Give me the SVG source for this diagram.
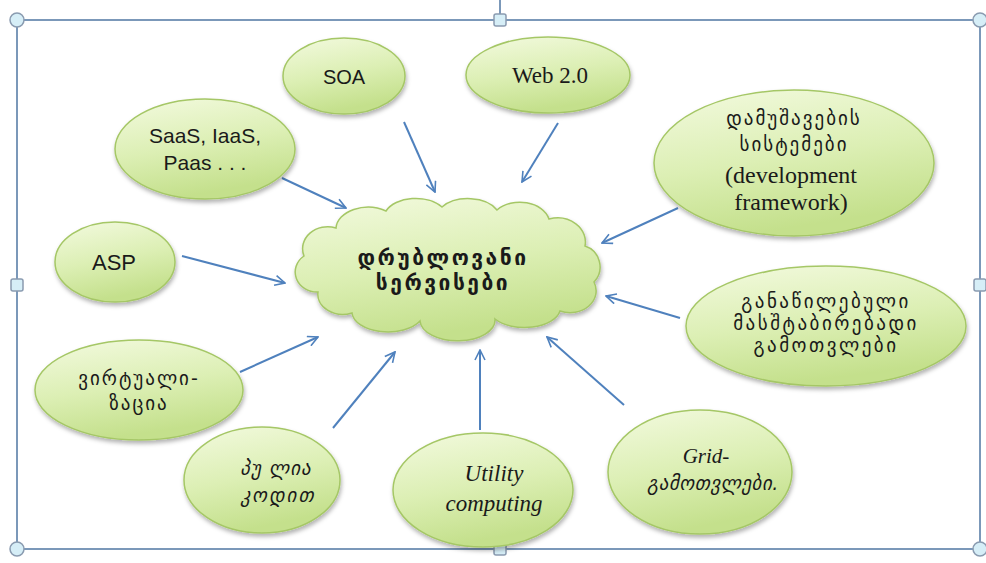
<svg xmlns="http://www.w3.org/2000/svg" width="986" height="563" viewBox="0 0 986 563">
  <defs>
    <linearGradient id="leaf" x1="0" y1="0" x2="0.3" y2="1">
      <stop offset="0" stop-color="#f3fadf"/>
      <stop offset="0.55" stop-color="#dcefb4"/>
      <stop offset="1" stop-color="#c4e08c"/>
    </linearGradient>
    <filter id="shade" x="-10%" y="-10%" width="125%" height="130%">
      <feDropShadow dx="1" dy="3" stdDeviation="2" flood-color="#000" flood-opacity="0.3"/>
    </filter>
    <marker id="head" viewBox="0 0 12 12" refX="11" refY="6" markerWidth="12" markerHeight="12" markerUnits="userSpaceOnUse" orient="auto">
      <path d="M1,1 L11,6 L1,11" fill="none" stroke="#4f81bd" stroke-width="1.6"/>
    </marker>
  </defs>
  <style>
    .node { fill: url(#leaf); stroke: #a5c766; stroke-width: 1.5; filter: url(#shade); }
    .link { stroke: #4f81bd; stroke-width: 2; fill: none; marker-end: url(#head); }
    .sans { font-family: "Liberation Sans", Arial, sans-serif; font-size: 20px; fill: #1a1a1a; text-anchor: middle; }
    .serif { font-family: "Liberation Serif", "Times New Roman", serif; font-size: 20px; fill: #1a1a1a; text-anchor: middle; }
    .geo { font-family: "DejaVu Sans", "Noto Sans", sans-serif; font-size: 19px; letter-spacing: 2px; fill: #1a1a1a; text-anchor: middle; }
    .frame { fill: none; stroke: #7b98b9; stroke-width: 2; }
    .knob { fill: #d6eef7; stroke: #8a9bb0; stroke-width: 1.5; }
  </style>

  <!-- selection frame -->
  <g id="frame">
    <line x1="500" y1="0" x2="500" y2="20" stroke="#7b98b9" stroke-width="2"/>
    <rect class="frame" x="17" y="20" width="963" height="529"/>
    <circle class="knob" cx="17" cy="20" r="7"/>
    <circle class="knob" cx="980" cy="20" r="7"/>
    <circle class="knob" cx="17" cy="549" r="7"/>
    <circle class="knob" cx="980" cy="549" r="7"/>
    <rect class="knob" x="494" y="14" width="12" height="12" rx="2"/>
    <rect class="knob" x="494" y="543" width="12" height="12" rx="2"/>
    <rect class="knob" x="11" y="279" width="12" height="12" rx="2"/>
    <rect class="knob" x="974" y="279" width="12" height="12" rx="2"/>
  </g>

  <!-- connectors -->
  <g id="connectors">
    <line class="link" x1="282" y1="178" x2="346" y2="208"/>
    <line class="link" x1="404" y1="122" x2="435" y2="192"/>
    <line class="link" x1="558" y1="123" x2="522" y2="182"/>
    <line class="link" x1="678" y1="208" x2="602" y2="243"/>
    <line class="link" x1="182" y1="256" x2="285" y2="283"/>
    <line class="link" x1="680" y1="318" x2="606" y2="296"/>
    <line class="link" x1="240" y1="372" x2="318" y2="337"/>
    <line class="link" x1="333" y1="428" x2="395" y2="352"/>
    <line class="link" x1="480" y1="430" x2="480" y2="350"/>
    <line class="link" x1="624" y1="405" x2="547" y2="337"/>
  </g>

  <!-- central cloud -->
  <g id="cloud">
    <path class="node" d="M318,292 A22,20 0 0 1 304,256 A25,22 0 0 1 336,228 A32,22 0 0 1 386,211 A32,20 0 0 1 442,207 A32,20 0 0 1 497,210 A30,22 0 0 1 549,219 A28,24 0 0 1 585,246 A22,22 0 0 1 594,282 A26,22 0 0 1 560,311 A36,20 0 0 1 495,319 A36,20 0 0 1 420,321 A36,20 0 0 1 352,313 A25,20 0 0 1 318,292 Z"/>
    <text class="geo" x="443" y="265" style="font-weight:bold;font-size:21px;letter-spacing:2.5px">დრუბლოვანი</text>
    <text class="geo" x="443" y="290" style="font-weight:bold;font-size:21px;letter-spacing:2.5px">სერვისები</text>
  </g>

  <g id="soa">
    <ellipse class="node" cx="344" cy="76" rx="61" ry="38"/>
    <text class="sans" x="344" y="84">SOA</text>
  </g>

  <g id="web2">
    <ellipse class="node" cx="548" cy="75" rx="82" ry="38"/>
    <text class="serif" x="550" y="83" style="font-size:23px">Web 2.0</text>
  </g>

  <g id="saas">
    <ellipse class="node" cx="205" cy="149" rx="90" ry="50"/>
    <text class="sans" x="205" y="143" style="font-size:21px">SaaS, IaaS,</text>
    <text class="sans" x="205" y="170" style="font-size:21px">Paas . . .</text>
  </g>

  <g id="framework">
    <ellipse class="node" cx="794" cy="163" rx="140" ry="73"/>
    <text class="geo" x="794" y="125">დამუშავების</text>
    <text class="geo" x="794" y="151">სისტემები</text>
    <text class="serif" x="791" y="183" style="font-size:24px">(development</text>
    <text class="serif" x="791" y="210" style="font-size:24px">framework)</text>
  </g>

  <g id="asp">
    <ellipse class="node" cx="115" cy="262" rx="60" ry="40"/>
    <text class="sans" x="114" y="270" style="font-size:22px">ASP</text>
  </g>

  <g id="distributed">
    <ellipse class="node" cx="826" cy="326" rx="140" ry="60"/>
    <text class="geo" x="826" y="308" style="letter-spacing:2.5px">განაწილებული</text>
    <text class="geo" x="826" y="330" style="letter-spacing:2.5px">მასშტაბირებადი</text>
    <text class="geo" x="826" y="352" style="letter-spacing:2.5px">გამოთვლები</text>
  </g>

  <g id="virtual">
    <ellipse class="node" cx="139" cy="390" rx="104" ry="50"/>
    <text class="geo" x="139" y="385">ვირტუალი-</text>
    <text class="geo" x="139" y="410">ზაცია</text>
  </g>

  <g id="opensource">
    <ellipse class="node" cx="262" cy="480" rx="78" ry="53"/>
    <text class="geo" x="276" y="475" style="font-style:italic;letter-spacing:1px">პუ ლია</text>
    <text class="geo" x="278" y="502" style="font-style:italic;letter-spacing:2px">კოდით</text>
  </g>

  <g id="utility">
    <ellipse class="node" cx="483" cy="490" rx="90" ry="57"/>
    <text class="serif" x="494" y="481" style="font-style:italic;font-size:23px">Utility</text>
    <text class="serif" x="494" y="511" style="font-style:italic;font-size:23px">computing</text>
  </g>

  <g id="grid">
    <ellipse class="node" cx="700" cy="472" rx="92" ry="62"/>
    <text class="serif" x="706" y="463" style="font-style:italic;font-size:21px">Grid-</text>
    <text class="geo" x="713" y="490" style="font-style:italic;letter-spacing:0.5px">გამოთვლები.</text>
  </g>
</svg>
